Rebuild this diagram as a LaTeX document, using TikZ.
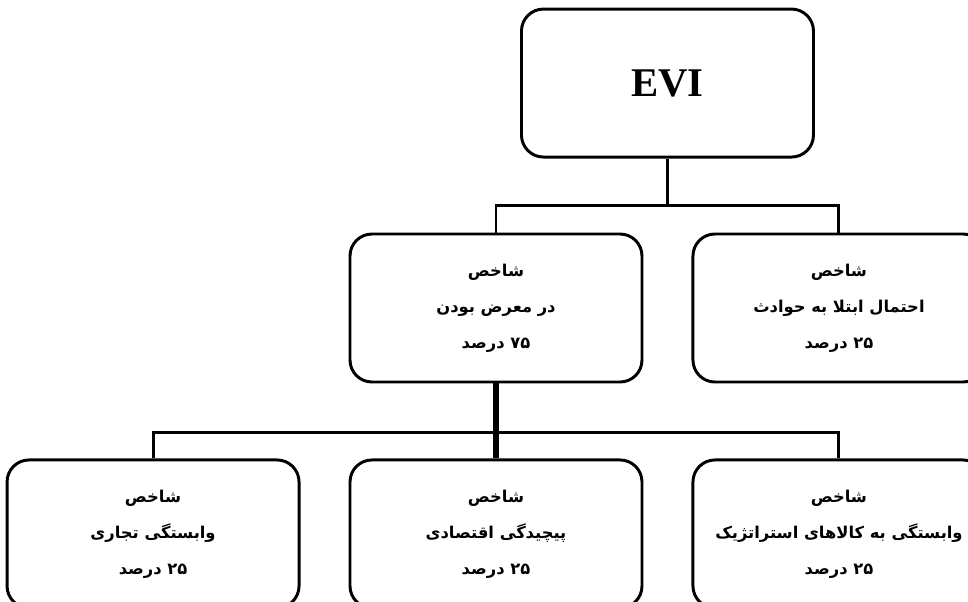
\documentclass[tikz,border=0pt]{standalone}
\usepackage{fontspec}
\setmainfont{Liberation Serif}
\newfontfamily\farsi[Script=Arabic]{DejaVu Sans}
\TeXXeTstate=1
\usetikzlibrary{positioning,calc}
\tikzset{
  indexbox/.style={rectangle,rounded corners=0.55cm,minimum width=7.3cm,minimum height=3.7cm,
    draw=black,fill=white,line width=2.1pt,align=center,
    font=\farsi\bfseries\fontsize{11.6}{25.6}\selectfont},
  topbox/.style={indexbox,font=\bfseries\fontsize{29}{36}\selectfont},
  myline/.style={line width=2.1pt,black},
  thickline/.style={line width=4.3pt,black},
}
\newcommand{\fa}[1]{\beginR#1\endR}

\begin{document}
\begin{tikzpicture}[node distance=1.875cm and 1.2cm]
  \useasboundingbox (-12.4,-7.325) rectangle (11.8,7.7);
  \clip (-12.4,-7.325) rectangle (11.8,7.7);
  \node[indexbox] (expo) {\fa{شاخص}\\\fa{در معرض بودن}\\\fa{\beginL ۷۵\endL{} درصد}};
  \node[indexbox,right=1.2cm of expo] (hazard) {\fa{شاخص}\\\fa{احتمال ابتلا به حوادث}\\\fa{\beginL ۲۵\endL{} درصد}};
  \node[indexbox,below=1.875cm of expo] (econ) {\fa{شاخص}\\\fa{پیچیدگی اقتصادی}\\\fa{\beginL ۲۵\endL{} درصد}};
  \node[indexbox,left=1.2cm of econ] (trade) {\fa{شاخص}\\\fa{وابستگی تجاری}\\\fa{\beginL ۲۵\endL{} درصد}};
  \node[indexbox,right=1.2cm of econ] (strat) {\fa{شاخص}\\\fa{وابستگی به کالاهای استراتژیک}\\\fa{\beginL ۲۵\endL{} درصد}};
  \coordinate (mid) at ($(expo.north)!0.5!(hazard.north)$);
  \node[topbox,above=1.85cm of mid] (evi) {EVI};
  % connectors
  \coordinate (bus1) at ($(evi.south)+(0,-1.175)$);
  \coordinate (bus2) at ($(econ.north)+(0,0.65)$);
  \draw[myline] (evi.south) -- (bus1);
  \draw[myline] (expo.north) |- (bus1) -| (hazard.north);
  \draw[myline] (trade.north) |- (bus2) -| (strat.north);
  \draw[thickline] (expo) -- (econ);
\end{tikzpicture}
\end{document}
